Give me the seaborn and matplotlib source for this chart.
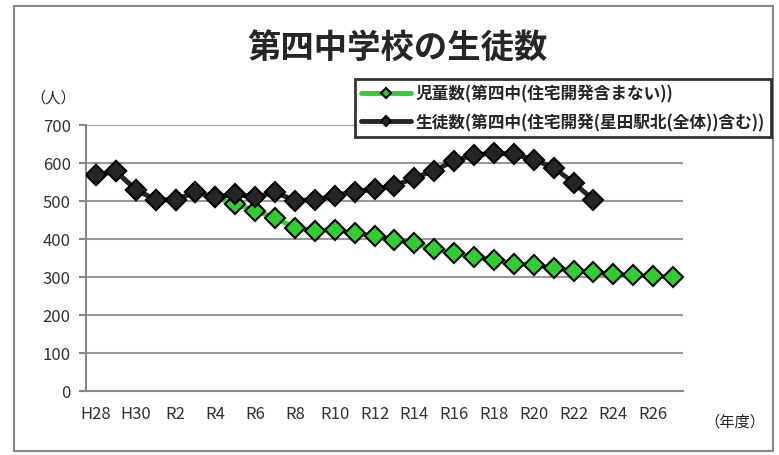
import numpy as np
import pandas as pd
import matplotlib
matplotlib.use("Agg")
import matplotlib.pyplot as plt
from matplotlib.lines import Line2D
from matplotlib.patches import Rectangle
import seaborn as sns

years = ['H28', 'H29', 'H30'] + ['R%d' % i for i in range(1, 28)]
tick_labels = ['H28', 'H30'] + ['R%d' % i for i in range(2, 27, 2)]

children = [568, 578, 530, 503, 503, 523, 510, 492, 475, 455,
            430, 422, 425, 416, 407, 398, 389, 374, 363, 352,
            346, 334, 332, 323, 317, 312, 308, 306, 303, 300]
students = [568, 578, 530, 503, 503, 523, 510, 518, 510, 523,
            501, 503, 514, 525, 531, 540, 561, 580, 606, 621,
            626, 623, 609, 588, 548, 503]

label_children = '児童数(第四中(住宅開発含まない))'
label_students = '生徒数(第四中(住宅開発(星田駅北(全体))含む))'

green = '#33cc33'
dark = '#262626'

sns.set_style('white')
plt.rcParams['font.family'] = ['Noto Sans CJK JP', 'DejaVu Sans']

df_c = pd.DataFrame({'x': np.arange(len(children)), 'v': children})
df_s = pd.DataFrame({'x': np.arange(len(students)), 'v': students})

fig = plt.figure(figsize=(7.79, 4.56), dpi=100)
ax = fig.add_axes([86 / 779, 64 / 456, 597 / 779, 266 / 456])

sns.lineplot(data=df_c, x='x', y='v', ax=ax, color=green, lw=3.5,
             marker='D', ms=10.5, mfc=green, mec='black', mew=1.5, zorder=3)
sns.lineplot(data=df_s, x='x', y='v', ax=ax, color=dark, lw=3.5,
             marker='D', ms=10.5, mfc=dark, mec='black', mew=1.5, zorder=4)

ax.set_xlim(-0.5, len(years) - 0.5)
ax.set_ylim(0, 700)
ax.set_yticks(range(0, 701, 100))
ax.set_xticks(np.arange(0, len(years), 2))
ax.set_xticklabels(tick_labels)
ax.set_xticks(np.arange(-0.5, len(years), 1), minor=True)
ax.tick_params(axis='x', which='major', length=0, pad=10, labelsize=12, colors='#333333')
ax.tick_params(axis='x', which='minor', length=5, width=1.5, color='#888888', direction='out')
ax.tick_params(axis='y', length=5, width=1.5, color='#888888', pad=6, labelsize=12,
               labelcolor='#333333', left=True)
ax.grid(axis='y', color='#999999', lw=1.5)
ax.set_axisbelow(True)
for s in ['top', 'right']:
    ax.spines[s].set_visible(False)
for s in ['left', 'bottom']:
    ax.spines[s].set_color('#888888')
    ax.spines[s].set_linewidth(1.5)
ax.set_xlabel('')
ax.set_ylabel('')

fig.text(398 / 779, 1 - 48 / 456, '第四中学校の生徒数', ha='center', va='center',
         fontsize=24, fontweight='bold')
fig.text(53 / 779, 1 - 98 / 456, '（人）', ha='center', va='center', fontsize=11)
fig.text(735 / 779, 1 - 422 / 456, '（年度）', ha='center', va='center', fontsize=11)

handles = [
    Line2D([], [], color=green, lw=3.5, marker='D', ms=5, mfc=green, mec='black', mew=1.5),
    Line2D([], [], color=dark, lw=3.5, marker='D', ms=5, mfc=dark, mec='black', mew=1.5),
]
leg = fig.legend(handles, [label_children, label_students], loc='upper left',
                 bbox_to_anchor=(355 / 779, 1 - 80 / 456), frameon=True, fancybox=False,
                 prop={'size': 12, 'weight': 'bold'}, handlelength=3.0, handletextpad=0.3,
                 labelspacing=0.6, borderpad=0.35, borderaxespad=0)
leg.get_frame().set_edgecolor('black')
leg.get_frame().set_linewidth(2)

fig.patches.append(Rectangle((14 / 779, 4 / 456), 759 / 779, 445 / 456,
                             transform=fig.transFigure, fill=False,
                             edgecolor='#888888', lw=1.5))

fig.savefig('out.png', dpi=100)
